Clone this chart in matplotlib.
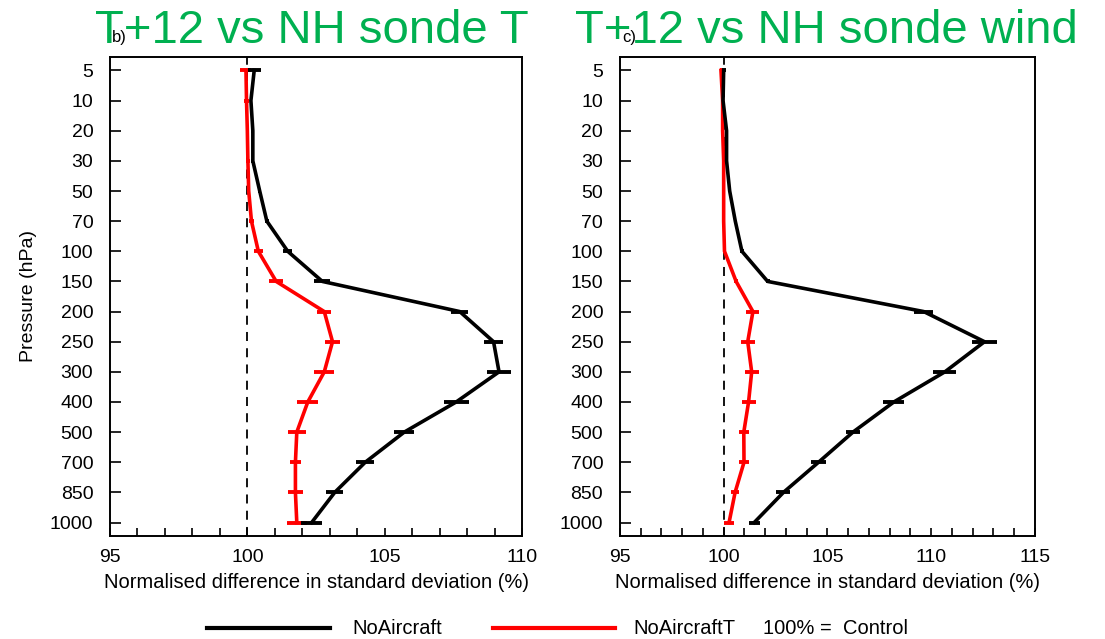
import matplotlib
matplotlib.use("Agg")
from matplotlib import pyplot as plt
from matplotlib.lines import Line2D
from matplotlib.ticker import MultipleLocator

plt.rcParams['font.family'] = ['Liberation Sans', 'DejaVu Sans']

# pressure levels (hPa), plotted as evenly spaced categories
levels = ["5", "10", "20", "30", "50", "70", "100", "150", "200",
          "250", "300", "400", "500", "700", "850", "1000"]

# panel b) T+12 vs NH sonde T
t_noair = [100.25, 100.13, 100.2, 100.2, 100.45, 100.71, 101.47, 102.73, 107.73,
           108.96, 109.16, 107.6, 105.71, 104.29, 103.18, 102.34]
t_noair_err = [0.23, 0.05, 0.05, 0.05, 0.05, 0.08, 0.16, 0.29, 0.3,
               0.34, 0.43, 0.45, 0.37, 0.32, 0.3, 0.38]
t_noairT = [99.95, 99.97, 100.0, 100.02, 100.05, 100.15, 100.4, 101.05, 102.8,
            103.1, 102.8, 102.2, 101.8, 101.75, 101.75, 101.8]
t_noairT_err = [0.2, 0.1, 0.06, 0.06, 0.06, 0.08, 0.16, 0.25, 0.26,
                0.26, 0.36, 0.38, 0.32, 0.2, 0.26, 0.36]

# panel c) T+12 vs NH sonde wind
w_noair = [100.0, 99.97, 100.14, 100.14, 100.29, 100.56, 100.88, 102.12, 109.64,
           112.57, 110.66, 108.2, 106.23, 104.57, 102.88, 101.47]
w_noair_err = [0.1, 0.03, 0.03, 0.03, 0.03, 0.05, 0.1, 0.1, 0.47,
               0.6, 0.55, 0.5, 0.35, 0.35, 0.34, 0.27]
w_noairT = [99.87, 99.95, 99.95, 100.0, 100.0, 100.0, 100.04, 100.6, 101.41,
            101.16, 101.35, 101.2, 100.97, 100.98, 100.55, 100.26]
w_noairT_err = [0.05, 0.03, 0.03, 0.03, 0.03, 0.03, 0.05, 0.1, 0.31,
                0.34, 0.34, 0.34, 0.25, 0.25, 0.2, 0.25]

green = "#00b050"
ypos = list(range(len(levels)))

fig = plt.figure(figsize=(11.05, 6.39), dpi=100)
ax1 = fig.add_axes([0.0995, 0.161, 0.373, 0.75])
ax2 = fig.add_axes([0.561, 0.161, 0.3756, 0.75])


def panel(ax, xa, ea, xb, eb, xmax, tag):
    ax.axvline(100, color="black", lw=1.3, ls=(0, (5, 4)), zorder=1)
    ax.errorbar(xa, ypos, xerr=ea, color="black", lw=2.6, elinewidth=2.8,
                capsize=0, zorder=3)
    ax.errorbar(xb, ypos, xerr=eb, color="#ff0000", lw=2.6, elinewidth=2.8,
                capsize=0, zorder=2)
    ax.set_ylim(15.45, -0.45)
    ax.set_xlim(95, xmax)
    ax.set_yticks(ypos)
    ax.set_yticklabels(levels)
    ax.set_xticks(range(95, xmax + 1, 5))
    ax.xaxis.set_minor_locator(MultipleLocator(1))
    ax.tick_params(axis="y", direction="in", length=8, width=1.2, labelsize=14, pad=12)
    ax.tick_params(axis="x", which="both", direction="in", length=6, width=1.2,
                   labelsize=14, pad=9, top=False)
    for s in ax.spines.values():
        s.set_linewidth(1.4)
    ax.set_xlabel("Normalised difference in standard deviation (%)", fontsize=14.5,
                  labelpad=5)
    ax.text(0.005, 1.04, tag, transform=ax.transAxes, fontsize=12, va="center")


panel(ax1, t_noair, t_noair_err, t_noairT, t_noairT_err, 110, "b)")
panel(ax2, w_noair, w_noair_err, w_noairT, w_noairT_err, 115, "c)")
ax1.set_ylabel("Pressure (hPa)", fontsize=14, labelpad=9)

fig.text(0.086, 0.933, "T+12 vs NH sonde T", color=green, fontsize=34, va="baseline")
fig.text(0.52, 0.933, "T+12 vs NH sonde wind", color=green, fontsize=34, va="baseline")

# legend along the bottom
ly = 1 - 628 / 639
fig.add_artist(Line2D([207 / 1105, 330 / 1105], [ly, ly], color="black", lw=3))
fig.text(352 / 1105, ly, "NoAircraft", fontsize=14.5, va="center")
fig.add_artist(Line2D([493 / 1105, 615 / 1105], [ly, ly], color="#ff0000", lw=3))
fig.text(633 / 1105, ly, "NoAircraftT", fontsize=14.5, va="center")
fig.text(763 / 1105, ly, "100% =  Control", fontsize=14.5, va="center")

fig.savefig("out.png", dpi=100)
